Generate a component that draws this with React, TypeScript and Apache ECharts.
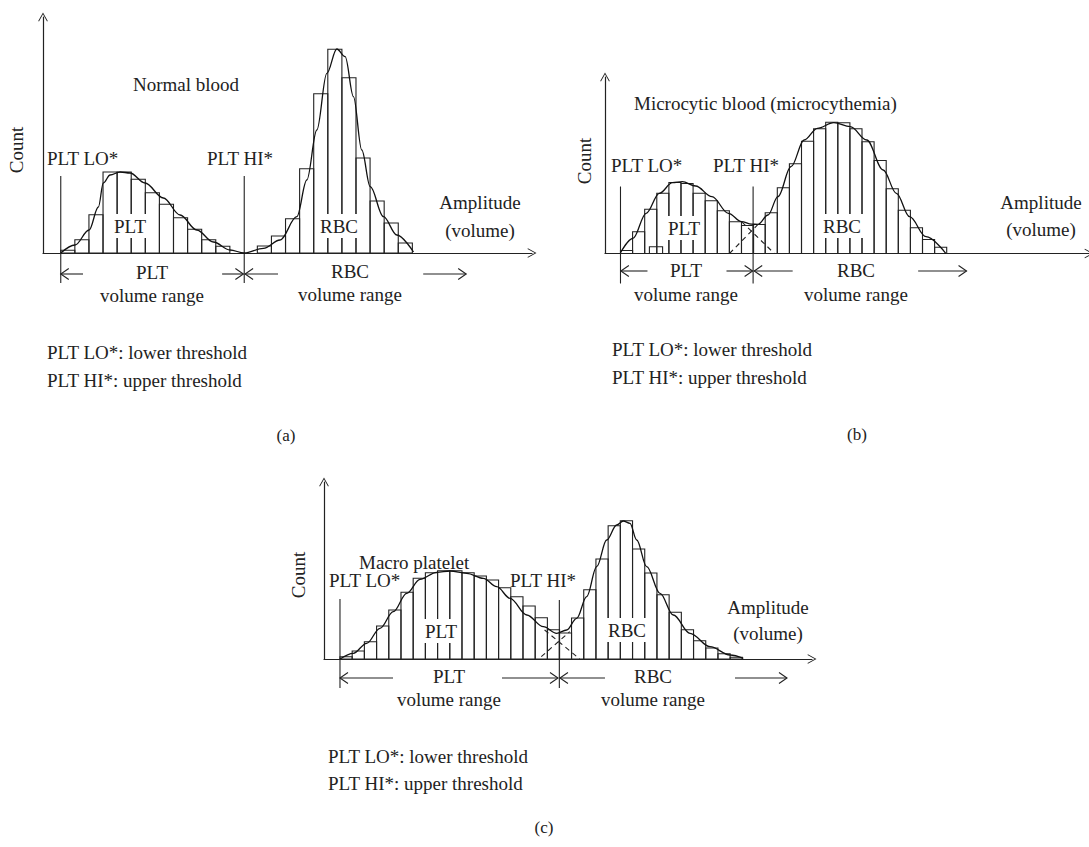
import React, { useEffect, useRef } from "react";
import * as echarts from "echarts";

// ---------- DATA (x in histogram bins from the Count axis, y in count units) ----------
// Panel (a) Normal blood
const pltStartA = 1.26;
const pltBarsA = [2.7, 13.3, 38.3, 81, 81, 73.7, 60.3, 48.7, 35.3, 23.7, 13.3, 6.7];
const rbcStartA = 15.21;
const rbcBarsA = [7, 17, 34.3, 84.3, 159.3, 203.7, 175.3, 95, 52, 30, 10];
const curveA = [
  [1.26, 0], [2.27, 8], [3.27, 23], [3.93, 46], [4.28, 70], [4.76, 78], [5.47, 81], [6.18, 80],
  [7.24, 70], [8.54, 55], [9.73, 38], [10.91, 23], [12.09, 11], [13.27, 3], [14.28, 0],
  [15.64, 4.7], [16.82, 13], [18.01, 36.3], [18.72, 73], [19.43, 123], [20.14, 179.7], [20.85, 204],
  [21.44, 196.3], [22.03, 156.3], [22.62, 103], [23.22, 66.3], [24.16, 36.3], [25.11, 18], [26.29, 1],
];
const thresholdsA = [[1.26, 77, -30], [14.28, 77, -30]];
const rangeArrowsA = [[2.84, 1.26, -21], [12.71, 14.22, -21], [16.68, 14.34, -21], [26.98, 30.03, -21]];

// Panel (b) Microcytic blood
const pltStartB = 1.28;
const pltBarsB = [3, 21.7, 44.3, 60.3, 71, 70, 60.3, 52.7, 42.7, 31.7, 28];
const clumpB = [[3.67, 1.09, 6.7]];
const rbcStartB = 12.24;
const rbcBarsB = [29, 40.7, 65.7, 89.7, 112.3, 124.7, 131.3, 130.7, 124.7, 111.7, 93, 64.7, 43.3, 25.7, 14, 6.3];
const curveB = [
  [1.28, 0.8], [2.31, 15.2], [3.4, 40.2], [4.49, 60.2], [5.58, 70.8], [6.39, 71.8], [7.49, 67.5],
  [8.84, 56.8], [10.2, 40.2], [11.29, 31.8], [12.11, 29.3], [12.65, 29.2], [13.47, 38.5], [14.29, 56.8],
  [15.37, 86.8], [16.46, 113.5], [17.55, 125.2], [18.91, 130.8], [20.27, 126.8], [21.63, 113.5],
  [22.99, 83.5], [24.08, 60.2], [25.17, 36.8], [26.53, 16.8], [28.16, 0.2],
];
const pltTailB = [[11.29, 31.8], [14.0, 0]];
const rbcTailB = [[10.29, 0], [12.8, 31]];
const thresholdsB = [[1.28, 67, -30], [12.24, 67, -30]];
const rangeArrowsB = [[3.51, 1.31, -17.5], [10.04, 12.2, -17.5], [15.51, 12.33, -17.5], [25.88, 29.88, -17.5]];

// Panel (c) Macro platelet
const pltStartC = 1.31;
const pltBarsC = [2.3, 8, 17.3, 33, 49, 66.7, 80.7, 86.3, 88.3, 88.3, 86.3, 83, 79, 71.3, 62.3, 53, 41.3, 29.3];
const rbcStartC = 19.29;
const rbcBarsC = [26, 41, 69.3, 100, 133.3, 138.3, 110, 86, 64.3, 46.7, 29.3, 18.3, 11, 5.3, 1.7];
const curveC = [
  [1.31, 0], [2.4, 5.7], [3.5, 15.7], [4.59, 30.7], [5.68, 47.3], [6.78, 65.7], [7.87, 79.7],
  [9.24, 86.7], [10.33, 88], [11.7, 85.7], [13.06, 80.7], [14.16, 72.3], [15.25, 60.7], [16.62, 44],
  [17.98, 32.3], [19.07, 25.7], [19.89, 29], [20.71, 40.7], [21.53, 62.3], [22.35, 92.3], [23.17, 119],
  [23.99, 134], [24.53, 138], [25.08, 135.7], [25.63, 119], [26.45, 92.3], [27.54, 65.7], [28.63, 44],
  [30.0, 25.7], [31.64, 12.3], [33.28, 4], [34.37, 0.7],
];
const pltTailC = [[18.08, 29], [20.96, 0]];
const rbcTailC = [[17.81, 2.3], [20.14, 27.3]];
const thresholdsC = [[1.31, 60, -29], [19.29, 59, -29]];
const rangeArrowsC = [[5.66, 1.31, -19], [14.59, 19.18, -19], [23.03, 19.34, -19], [33.69, 37.95, -19]];

// ---------- LAYOUT ----------
const INK = "#222";
const FONT = "'Liberation Serif', 'DejaVu Serif', serif";
const FS = 19;
const panels = [
  { left: 43, top: 17, width: 489, height: 236, max: 34.7, ymax: 236 },
  { left: 605, top: 77, width: 490, height: 176.5, max: 40, ymax: 176.5 },
  { left: 324, top: 482, width: 488, height: 177, max: 40, ymax: 177 },
];

const arrowPath = "path://M5,0 L10,9 L9.2,9.4 L5,1.8 L0.8,9.4 L0,9 Z";

function bars(start: number, heights: number[]) {
  return heights.map((h, i) => [start + i, 1, h]);
}

function barRender(params: any, api: any) {
  const x0 = api.value(0), w = api.value(1), h = api.value(2);
  const p0 = api.coord([x0, 0]);
  const p1 = api.coord([x0 + w, h]);
  return {
    type: "rect",
    shape: { x: p0[0], y: p1[1], width: p1[0] - p0[0], height: p0[1] - p1[1] },
    style: { fill: "none", stroke: INK, lineWidth: 1.1 },
  };
}

function thresholdRender(params: any, api: any) {
  const x = api.value(0);
  const a = api.coord([x, api.value(1)]);
  const b = api.coord([x, api.value(2)]);
  return {
    type: "line",
    shape: { x1: a[0], y1: a[1], x2: b[0], y2: b[1] },
    style: { stroke: INK, lineWidth: 1.1 },
  };
}

function arrowRender(params: any, api: any) {
  const a = api.coord([api.value(0), api.value(2)]);
  const b = api.coord([api.value(1), api.value(2)]);
  const dir = b[0] > a[0] ? 1 : -1;
  return {
    type: "group",
    children: [
      { type: "line", shape: { x1: a[0], y1: a[1], x2: b[0], y2: b[1] }, style: { stroke: INK, lineWidth: 1.1 } },
      {
        type: "polyline",
        shape: { points: [[b[0] - dir * 8, b[1] - 5.5], [b[0], b[1]], [b[0] - dir * 8, b[1] + 5.5]] },
        style: { stroke: INK, lineWidth: 1.1, fill: "none" },
      },
    ],
  };
}

function panelSeries(idx: number, d: any) {
  const s: any[] = [
    { type: "custom", xAxisIndex: idx, yAxisIndex: idx, renderItem: barRender, data: bars(d.pltStart, d.pltBars), z: 3, silent: true },
    { type: "custom", xAxisIndex: idx, yAxisIndex: idx, renderItem: barRender, data: bars(d.rbcStart, d.rbcBars), z: 3, silent: true },
    { type: "custom", xAxisIndex: idx, yAxisIndex: idx, renderItem: thresholdRender, data: d.thresholds, z: 3, silent: true },
    { type: "custom", xAxisIndex: idx, yAxisIndex: idx, renderItem: arrowRender, data: d.arrows, z: 3, silent: true },
    {
      type: "line", xAxisIndex: idx, yAxisIndex: idx, data: d.curve, smooth: 0.35, smoothMonotone: "x",
      symbol: "none", lineStyle: { color: "#111", width: 1.3 }, z: 4, silent: true,
    },
  ];
  if (d.extra) {
    s.push({ type: "custom", xAxisIndex: idx, yAxisIndex: idx, renderItem: barRender, data: d.extra, z: 3, silent: true });
  }
  (d.tails || []).forEach((t: number[][]) => {
    s.push({
      type: "line", xAxisIndex: idx, yAxisIndex: idx, data: t, symbol: "none",
      lineStyle: { color: INK, width: 1.1, type: [5, 4] }, z: 4, silent: true,
    });
  });
  return s;
}

function txt(text: string, x: number, y: number, align = "center", size = FS, extra: any = {}) {
  return {
    type: "text", x, y, z: 100, zlevel: 0,
    style: { text, font: `${size}px ${FONT}`, fill: "#222", textAlign: align, textVerticalAlign: "middle", ...extra },
    silent: true,
  };
}
function boxed(text: string, x: number, y: number) {
  return txt(text, x, y, "center", FS, { backgroundColor: "#fff", padding: [3, 4, 2, 4] });
}
function count(x: number, y: number) {
  return { ...txt("Count", x, y), rotation: Math.PI / 2 };
}

export default function App() {
  const ref = useRef<HTMLDivElement>(null);
  useEffect(() => {
    document.body.style.margin = "0";
    const chart = echarts.init(ref.current!, null, { renderer: "svg" });
    const axisLine = {
      show: true,
      lineStyle: { color: INK, width: 1.2 },
      symbol: ["none", arrowPath],
      symbolSize: [13, 9],
      symbolOffset: [0, 0],
    };
    const option: any = {
      animation: false,
      backgroundColor: "#fff",
      grid: panels.map((p) => ({ left: p.left, top: p.top, width: p.width, height: p.height })),
      xAxis: panels.map((p, i) => ({
        type: "value", gridIndex: i, min: 0, max: p.max, axisLine, axisTick: { show: false },
        axisLabel: { show: false }, splitLine: { show: false },
      })),
      yAxis: panels.map((p, i) => ({
        type: "value", gridIndex: i, min: 0, max: p.ymax, axisLine, axisTick: { show: false },
        axisLabel: { show: false }, splitLine: { show: false },
      })),
      series: [
        ...panelSeries(0, {
          pltStart: pltStartA, pltBars: pltBarsA, rbcStart: rbcStartA, rbcBars: rbcBarsA,
          curve: curveA, thresholds: thresholdsA, arrows: rangeArrowsA,
        }),
        ...panelSeries(1, {
          pltStart: pltStartB, pltBars: pltBarsB, rbcStart: rbcStartB, rbcBars: rbcBarsB,
          curve: curveB, thresholds: thresholdsB, arrows: rangeArrowsB, extra: clumpB, tails: [pltTailB, rbcTailB],
        }),
        ...panelSeries(2, {
          pltStart: pltStartC, pltBars: pltBarsC, rbcStart: rbcStartC, rbcBars: rbcBarsC,
          curve: curveC, thresholds: thresholdsC, arrows: rangeArrowsC, tails: [pltTailC, rbcTailC],
        }),
      ],
      graphic: [
        // Panel (a)
        count(16, 150),
        txt("Normal blood", 133, 84, "left"),
        txt("PLT LO*", 47, 158, "left"),
        txt("PLT HI*", 207, 158, "left"),
        boxed("PLT", 130, 226),
        boxed("RBC", 339, 226),
        txt("Amplitude", 480, 202),
        txt("(volume)", 480, 230),
        boxed("PLT", 152, 272),
        txt("volume range", 152, 295),
        boxed("RBC", 350, 271),
        txt("volume range", 350, 294),
        txt("PLT LO*: lower threshold", 47, 352, "left"),
        txt("PLT HI*: upper threshold", 47, 380, "left"),
        txt("(a)", 286, 435, "center", 17),
        // Panel (b)
        count(584, 161),
        txt("Microcytic blood (microcythemia)", 634, 103, "left"),
        txt("PLT LO*", 611, 165, "left"),
        txt("PLT HI*", 713, 165, "left"),
        boxed("PLT", 684, 228),
        boxed("RBC", 842, 226),
        txt("Amplitude", 1041, 202),
        txt("(volume)", 1041, 229),
        boxed("PLT", 686, 270),
        txt("volume range", 686, 294),
        boxed("RBC", 856, 270),
        txt("volume range", 856, 294),
        txt("PLT LO*: lower threshold", 612, 349, "left"),
        txt("PLT HI*: upper threshold", 612, 377, "left"),
        txt("(b)", 857, 434, "center", 17),
        // Panel (c)
        count(298, 575),
        txt("Macro platelet", 359, 562, "left"),
        txt("PLT LO*", 329, 580, "left"),
        txt("PLT HI*", 510, 580, "left"),
        boxed("PLT", 441, 631),
        boxed("RBC", 627, 630),
        txt("Amplitude", 768, 607),
        txt("(volume)", 768, 633),
        boxed("PLT", 449, 676),
        txt("volume range", 449, 699),
        boxed("RBC", 653, 676),
        txt("volume range", 653, 699),
        txt("PLT LO*: lower threshold", 328, 756, "left"),
        txt("PLT HI*: upper threshold", 328, 783, "left"),
        txt("(c)", 544, 827, "center", 17),
      ],
    };
    chart.setOption(option);
    return () => chart.dispose();
  }, []);
  return <div ref={ref} style={{ width: 1089, height: 847 }} />;
}
